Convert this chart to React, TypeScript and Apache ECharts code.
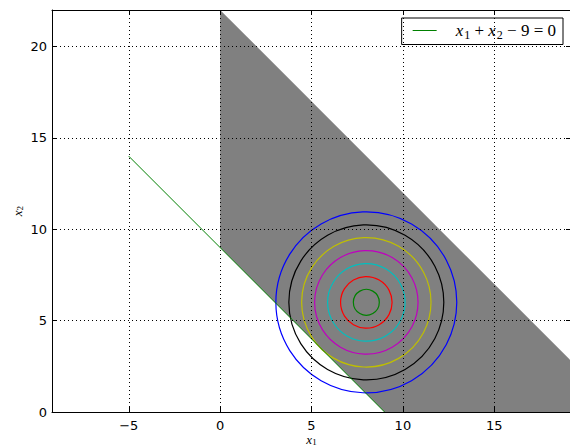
import React, { useEffect, useRef } from "react";
import * as echarts from "echarts";

// Feasible (gray) region vertices
const regionX = [0, 0, 22, 9];
const regionY = [9, 22, 0, 0];

// Constraint line x1 + x2 - 9 = 0
const lineX = [-5, 9];
const lineY = [14, 0];

// Contour circles of (x1-8)^2 + (x2-6)^2
const centerX = 8;
const centerY = 6;
const levelRadii = [0, 0.71, 1.41, 2.12, 2.83, 3.54, 4.24, 4.95];
const levelColors = ["#0000ff", "#008000", "#ff0000", "#00bfbf", "#bf00bf", "#bfbf00", "#000000", "#0000ff"];

const xMin = -9.2;
const xMax = 19.2;
const yMin = 0;
const yMax = 22;

const fmt = (v: number) => (Math.abs(v % 5) < 1e-9 ? String(v).replace("-", "\u2212") : "");

export default function App() {
  const ref = useRef<HTMLDivElement>(null);
  useEffect(() => {
    document.body.style.margin = "0";
    if (!ref.current) return;
    const chart = echarts.init(ref.current, undefined, { renderer: "svg" });
    const serif = "Liberation Serif";
    const axisCommon = {
      axisLine: { show: true, onZero: false, lineStyle: { color: "#000", width: 1 } },
      axisTick: { show: true, inside: true, length: 5, lineStyle: { color: "#000", width: 1 } },
    };
    chart.setOption({
      animation: false,
      grid: { left: 52, right: -1, top: 10, bottom: 34, containLabel: false, outerBoundsMode: "none" },
      legend: {
        data: [{ name: "x1+x2-9=0", icon: "rect" }],
        right: 7,
        top: 18,
        orient: "vertical",
        backgroundColor: "#fff",
        borderColor: "#000",
        borderWidth: 1,
        borderRadius: 0,
        padding: [4, 7, 4, 11],
        itemWidth: 24,
        itemHeight: 1,
        formatter: () => "{i0|x}{s|1}{o| + }{i|x}{s|2}{o| \u2212 9 = 0}",
        textStyle: {
          color: "#000",
          rich: {
            i0: { fontFamily: serif, fontStyle: "italic", fontSize: 17, color: "#000", padding: [0, 0, 0, 14] },
            i: { fontFamily: serif, fontStyle: "italic", fontSize: 17, color: "#000" },
            s: { fontFamily: serif, fontSize: 12, color: "#000", padding: [8, 0, 0, 1] },
            o: { fontFamily: serif, fontSize: 17, color: "#000" },
          },
        },
      },
      xAxis: [
        {
          type: "value",
          position: "bottom",
          min: xMin,
          max: xMax,
          minInterval: 5,
          maxInterval: 5,
          z: 5,
          ...axisCommon,
          axisLabel: { formatter: fmt, color: "#000", fontFamily: "DejaVu Sans", fontSize: 13, margin: 7 },
          splitLine: { show: true, showMinLine: false, showMaxLine: false, lineStyle: { color: "#000", width: 1, type: [1, 3] } },
          name: "{i|x}{s|1}",
          nameLocation: "middle",
          nameGap: 21,
          nameMoveOverlap: false,
          nameTextStyle: {
            rich: {
              i: { fontFamily: serif, fontStyle: "italic", fontSize: 13, lineHeight: 13, color: "#000" },
              s: { fontFamily: serif, fontSize: 9, lineHeight: 9, color: "#000", padding: [4, 0, 0, 0] },
            },
          },
        },
        {
          type: "value",
          position: "top",
          min: xMin,
          max: xMax,
          minInterval: 5,
          maxInterval: 5,
          z: 5,
          ...axisCommon,
          axisLabel: { show: false },
          splitLine: { show: false },
        },
      ],
      yAxis: [
        {
          type: "value",
          position: "left",
          min: yMin,
          max: yMax,
          minInterval: 5,
          maxInterval: 5,
          z: 5,
          ...axisCommon,
          axisLabel: { formatter: fmt, color: "#000", fontFamily: "DejaVu Sans", fontSize: 13, margin: 5 },
          splitLine: { show: true, showMinLine: false, showMaxLine: false, lineStyle: { color: "#000", width: 1, type: [1, 3] } },
          name: "{i|x}{s|2}",
          nameLocation: "middle",
          nameGap: 28,
          nameMoveOverlap: false,
          nameRotate: 90,
          nameTextStyle: {
            rich: {
              i: { fontFamily: serif, fontStyle: "italic", fontSize: 13, color: "#000" },
              s: { fontFamily: serif, fontSize: 9, color: "#000", padding: [5, 0, 0, 0] },
            },
          },
        },
        {
          type: "value",
          position: "right",
          min: yMin,
          max: yMax,
          minInterval: 5,
          maxInterval: 5,
          z: 5,
          ...axisCommon,
          axisLabel: { show: false },
          splitLine: { show: false },
        },
      ],
      series: [
        {
          type: "custom",
          name: "region",
          xAxisIndex: 0,
          yAxisIndex: 0,
          clip: true,
          data: [[regionX[0], regionY[0]]],
          renderItem: (params: any, api: any) => {
            const points = regionX.map((x, i) => api.coord([x, regionY[i]]));
            return { type: "polygon", shape: { points }, style: { fill: "#808080", stroke: "none" } };
          },
          z: 1,
        },
        {
          type: "line",
          name: "x1+x2-9=0",
          xAxisIndex: 0,
          yAxisIndex: 0,
          data: lineX.map((x, i) => [x, lineY[i]]),
          symbol: "none",
          lineStyle: { color: "#008000", width: 1 },
          itemStyle: { color: "#008000" },
          z: 3,
        },
        {
          type: "custom",
          name: "contours",
          xAxisIndex: 0,
          yAxisIndex: 0,
          data: levelRadii.map((r, i) => [centerX, centerY, r, i]),
          renderItem: (params: any, api: any) => {
            const c = api.coord([api.value(0), api.value(1)]);
            const r = api.size([api.value(2), 0])[0];
            const idx = api.value(3);
            return {
              type: "circle",
              shape: { cx: c[0], cy: c[1], r: Math.max(r, 0.8) },
              style: { fill: "none", stroke: levelColors[idx], lineWidth: 1.2 },
            };
          },
          z: 2,
        },
      ],
    });
    return () => chart.dispose();
  }, []);
  return <div ref={ref} style={{ width: 570, height: 446 }} />;
}
